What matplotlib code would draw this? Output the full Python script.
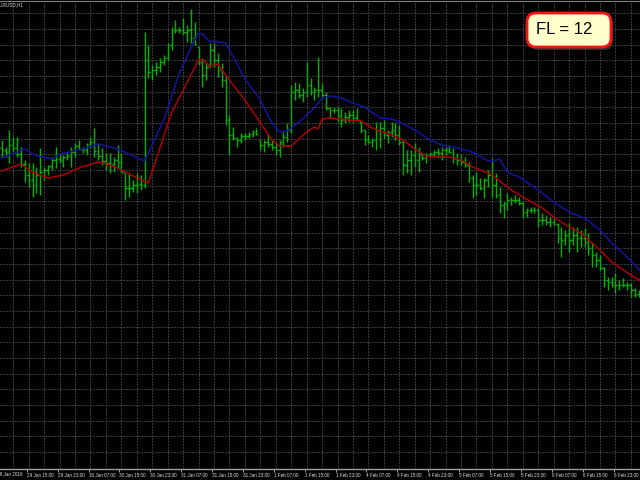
import matplotlib
matplotlib.use("Agg")
import matplotlib.pyplot as plt
import numpy as np
from matplotlib.patches import FancyBboxPatch

plt.rcParams['font.family'] = ['Liberation Sans', 'DejaVu Sans']
plt.rcParams['lines.scale_dashes'] = False

# ---------------- data (EURUSD H1, price levels in arbitrary chart units) -------------
high = [160, 153, 170, 163, 163, 153, 140, 137, 137, 133,
        152, 133, 135, 143, 153, 147, 145, 148, 153, 157,
        160, 153, 157, 163, 172, 157, 152, 147, 147, 143,
        155, 147, 127, 127, 120, 127, 125, 268, 255, 235,
        238, 242, 245, 257, 273, 280, 273, 282, 275, 291,
        278, 253, 242, 237, 257, 257, 247, 237, 225, 185,
        173, 163, 167, 167, 168, 170, 172, 160, 160, 167,
        160, 157, 160, 168, 177, 215, 218, 217, 212, 238,
        222, 213, 243, 217, 208, 193, 193, 193, 192, 188,
        190, 190, 192, 178, 170, 165, 162, 178, 178, 180,
        170, 178, 177, 175, 160, 150, 150, 157, 153, 147,
        147, 148, 150, 152, 153, 153, 155, 152, 147, 145,
        143, 138, 125, 128, 122, 122, 130, 142, 127, 113,
        98, 107, 103, 105, 103, 98, 92, 93, 93, 92,
        87, 85, 83, 82, 77, 73, 70, 77, 73, 73,
        70, 72, 67, 58, 48, 45, 33, 23, 23, 27,
        20, 22, 18, 17, 12, 10]
low = [143, 143, 137, 148, 143, 133, 118, 113, 103, 107,
       105, 120, 125, 130, 132, 137, 133, 140, 133, 143,
       150, 147, 145, 152, 143, 140, 135, 130, 127, 128,
       132, 128, 100, 103, 108, 107, 110, 112, 222, 220,
       225, 228, 235, 240, 250, 267, 267, 265, 258, 257,
       255, 235, 213, 220, 233, 233, 223, 213, 175, 145,
       160, 153, 157, 160, 162, 163, 165, 150, 148, 153,
       150, 145, 143, 153, 158, 167, 200, 202, 198, 203,
       205, 200, 203, 203, 190, 183, 187, 178, 173, 177,
       178, 178, 180, 167, 155, 157, 153, 150, 152, 162,
       157, 163, 160, 155, 125, 127, 125, 133, 128, 140,
       137, 143, 143, 143, 140, 145, 147, 137, 135, 135,
       133, 118, 102, 105, 110, 102, 113, 103, 102, 87,
       82, 90, 95, 97, 95, 82, 83, 87, 87, 73,
       75, 75, 73, 75, 57, 43, 55, 48, 55, 48,
       53, 53, 45, 33, 33, 30, 13, 10, 13, 7,
       10, 13, 10, 3, 3, 3]
close = [150, 148, 155, 152, 146, 136, 125, 120, 115, 125,
         128, 130, 134, 140, 141, 140, 143, 144, 148, 154,
         151, 150, 156, 158, 149, 144, 139, 137, 136, 140,
         138, 128, 112, 112, 115, 116, 115, 240, 228, 230,
         233, 238, 242, 255, 270, 270, 270, 268, 270, 262,
         256, 238, 225, 233, 250, 240, 230, 220, 180, 165,
         162, 160, 164, 164, 166, 168, 166, 155, 158, 156,
         153, 150, 158, 163, 170, 208, 210, 205, 208, 215,
         208, 210, 210, 205, 192, 190, 190, 185, 180, 183,
         185, 182, 180, 170, 160, 158, 160, 170, 172, 165,
         168, 170, 165, 158, 135, 140, 145, 140, 145, 142,
         145, 146, 148, 147, 150, 150, 148, 142, 140, 138,
         135, 122, 115, 115, 112, 120, 125, 115, 105, 95,
         97, 100, 100, 100, 97, 88, 90, 90, 90, 80,
         80, 78, 78, 76, 62, 60, 65, 60, 65, 62,
         62, 58, 52, 45, 40, 32, 20, 18, 15, 15,
         15, 15, 15, 10, 6, 5]
first_open = 152

# upper (blue) and lower (red) lines: bar index, level
blue_bar = [0, 6, 9, 13, 15, 20, 25, 30, 37, 42, 46, 50, 51, 52, 54, 55, 58, 59, 63, 67,
            70, 72, 74, 77, 81, 83, 85, 88, 91, 94, 98, 101, 103, 107, 111, 114, 117, 122,
            126, 127, 129, 131, 134, 139, 143, 147, 151, 155, 158, 162, 166]
blue_val = [142, 151, 144, 141, 146, 150, 156, 151, 139, 180, 227, 260, 267, 266, 258, 259,
            257, 250, 221, 200, 177, 168, 169, 178, 192, 202, 204, 202, 197, 193, 182, 181,
            178, 170, 160, 155, 153, 148, 139, 139, 141, 128, 123, 110, 98, 88, 82, 70, 57,
            43, 27]
red_bar = [0, 5, 8, 12, 16, 20, 25, 28, 30, 34, 38, 44, 51, 52, 54, 56, 58, 63, 66, 70,
           72, 75, 79, 81, 82, 83, 85, 90, 93, 96, 101, 104, 107, 110, 113, 116, 119, 122,
           126, 127, 132, 135, 140, 143, 147, 150, 155, 158, 163, 166]
red_val = [129, 136, 128, 122, 125, 132, 138, 135, 132, 124, 117, 187, 240, 240, 234, 236,
           225, 200, 183, 160, 154, 154, 168, 173, 171, 181, 182, 180, 179, 172, 165, 160,
           151, 144, 143, 143, 140, 133, 127, 125, 110, 103, 92, 83, 73, 67, 50, 38, 25, 18]

tick_bars = [7, 15, 23, 31, 39, 47, 55, 63, 71, 79, 87, 95, 103, 111, 119, 127, 135, 143, 151, 159]
tick_labels = ["29 Jan 15:00", "29 Jan 23:00", "30 Jan 07:00", "30 Jan 15:00", "30 Jan 23:00",
               "31 Jan 07:00", "31 Jan 15:00", "31 Jan 23:00", "1 Feb 07:00", "1 Feb 15:00",
               "1 Feb 23:00", "4 Feb 07:00", "4 Feb 15:00", "4 Feb 23:00", "5 Feb 07:00",
               "5 Feb 15:00", "5 Feb 23:00", "6 Feb 07:00", "6 Feb 15:00", "6 Feb 23:00"]
first_label = "29 Jan 2019"
title = "EURUSD,H1"
fl_text = "FL = 12"

# ---------------- styling -------------
BAR = "#00b400"
BLUE = "#1414a0"
RED = "#b00000"
GRID = "#70707a"
TXT = "#e0e0e0"

fig = plt.figure(figsize=(6.4, 4.8), dpi=100, facecolor="black")
ax = fig.add_axes([0, 11 / 480, 1, 468 / 480], facecolor="black")

xb = np.arange(len(high))
hi = np.array(high, float)
lo = np.array(low, float)
cl = np.array(close, float)
op = np.clip(np.r_[first_open, cl[:-1]], lo, hi)

# grid
for g in np.arange(286.7, -166, -15.67):
    ax.axhline(g, color=GRID, lw=0.72, ls=(0, (0.72, 1.44)), zorder=1)
for v in np.arange(3, 170, 4):
    ax.axvline(v, color=GRID, lw=0.72, ls=(0, (0.72, 1.44)), zorder=1)

# OHLC bars
ax.vlines(xb, lo, hi, color=BAR, lw=1.0, zorder=3)
ax.hlines(op, xb - 0.42, xb, color=BAR, lw=1.0, zorder=3)
ax.hlines(cl, xb, xb + 0.42, color=BAR, lw=1.0, zorder=3)

# lines
ax.plot(blue_bar, blue_val, color=BLUE, lw=1.1, zorder=4)
ax.plot(red_bar, red_val, color=RED, lw=1.1, zorder=4)

ax.set_xlim(-0.44, 165.36)
ax.set_ylim(-169, 299)
ax.set_yticks([])
ax.set_xticks(np.array(tick_bars) - 0.5, tick_labels)
ax.tick_params(axis="x", direction="out", length=2.2, width=0.7, color="#a0a0a0",
               labelsize=3.3, labelcolor=TXT, pad=0.5)
for lbl in ax.get_xticklabels():
    lbl.set_horizontalalignment("left")
for s in ("left", "right"):
    ax.spines[s].set_visible(False)
ax.spines["bottom"].set_color("#a0a0a0")
ax.spines["bottom"].set_linewidth(1.0)
ax.spines["top"].set_color("#808080")
ax.spines["top"].set_linewidth(0.8)

fig.text(-3 / 640, 1 - 474 / 480, first_label, ha="left", va="center", fontsize=3.3, color=TXT)
fig.text(-3 / 640, 1 - 5 / 480, title, ha="left", va="center", fontsize=3.3, color=TXT)

# FL label box
shadow = FancyBboxPatch((5.29, 4.30), 0.84, 0.34, boxstyle="round,pad=0,rounding_size=0.09",
                        transform=fig.dpi_scale_trans, fc="#3a3a3a", ec="none", alpha=0.8, zorder=5)
box = FancyBboxPatch((5.27, 4.33), 0.84, 0.34, boxstyle="round,pad=0,rounding_size=0.09",
                     transform=fig.dpi_scale_trans, fc="#ffffcc", ec="#ff1010", lw=2.0, zorder=6)
fig.add_artist(shadow)
fig.add_artist(box)
fig.text(5.645 / 6.4, 4.505 / 4.8, fl_text, ha="center", va="center", fontsize=12,
         color="black", zorder=7)

fig.savefig("out.png", dpi=100, facecolor="black")
